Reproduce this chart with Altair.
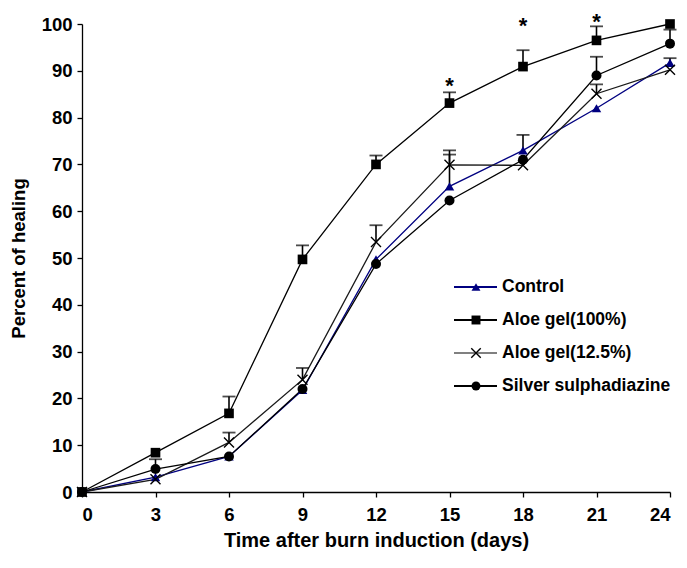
import altair as alt
import pandas as pd

days = [0, 3, 6, 9, 12, 15, 18, 21, 24]
series_names = ["Control", "Aloe gel(100%)", "Aloe gel(12.5%)", "Silver sulphadiazine"]
control = [0, 3.2, 7.6, 21.8, 49.7, 65.3, 73.0, 82.0, 91.7]
control_err = [0, 0, 0, 0, 0, 6.8, 3.3, 0, 1.0]
aloe100 = [0, 8.4, 16.8, 49.7, 70.0, 83.1, 90.9, 96.5, 100.0]
aloe100_err = [0, 0, 3.6, 3.0, 1.9, 2.3, 3.5, 3.0, 0]
aloe125 = [0, 2.7, 10.6, 24.0, 53.4, 69.9, 69.8, 85.1, 90.2]
aloe125_err = [0, 0, 2.1, 2.5, 3.6, 3.1, 0, 2.0, 0]
silver = [0, 4.9, 7.6, 22.0, 48.7, 62.3, 71.0, 89.0, 95.8]
silver_err = [0, 2.1, 0, 0, 0, 0, 0, 4.0, 3.0]
star_days = [15, 18, 21]
star_vals = [88.8, 101.8, 102.5]
x_ticks = [0, 3, 6, 9, 12, 15, 18, 21, 24]
y_ticks = [0, 10, 20, 30, 40, 50, 60, 70, 80, 90, 100]

colors = ["#000080", "#000000", "#1a1a1a", "#000000"]
xpath = "M-1,-1L1,1M-1,1L1,-1"
shapes = ["triangle-up", "square", xpath, "circle"]

rows = []
for name, vals, errs in zip(series_names,
                            [control, aloe100, aloe125, silver],
                            [control_err, aloe100_err, aloe125_err, silver_err]):
    for d, v, e in zip(days, vals, errs):
        rows.append({"day": d, "val": v, "top": v + e, "err": e, "series": name})
df = pd.DataFrame(rows)
err_df = df[df["err"] > 0]

W, H = 588, 468
xs = alt.Scale(domain=[0, 24], nice=False, zero=False)
ys = alt.Scale(domain=[0, 100], nice=False)
X = alt.X("day:Q", scale=xs,
          axis=alt.Axis(values=x_ticks, title="Time after burn induction (days)",
                        titlePadding=7, labelPadding=8, titleFontSize=20))
Y = alt.Y("val:Q", scale=ys,
          axis=alt.Axis(values=y_ticks, title="Percent of healing", titlePadding=13,
                        labelPadding=5, titleFontSize=18.5))
color = alt.Color("series:N", scale=alt.Scale(domain=series_names, range=colors), legend=None)

lines = alt.Chart(df).mark_line(strokeWidth=1.3).encode(
    x=X, y=Y, color=color, detail="series:N",
    order=alt.Order("day:Q"))

err_rule = alt.Chart(err_df).mark_rule(strokeWidth=1.6, color="black").encode(
    x="day:Q", y="val:Q", y2="top:Q")
err_cap = alt.Chart(err_df).mark_tick(orient="horizontal", size=13, thickness=1.8,
                                      color="black").encode(
    x="day:Q", y="top:Q")

pts_filled = alt.Chart(df).transform_filter(
    alt.datum.series != "Aloe gel(12.5%)").mark_point(filled=True, opacity=1).encode(
    x="day:Q", y="val:Q", color=color,
    shape=alt.Shape("series:N", scale=alt.Scale(domain=series_names, range=shapes), legend=None),
    size=alt.Size("series:N", scale=alt.Scale(domain=series_names, range=[90, 100, 100, 70]),
                  legend=None))
pts_x = alt.Chart(df).transform_filter(
    alt.datum.series == "Aloe gel(12.5%)").mark_point(
    shape=xpath, filled=False, size=100, strokeWidth=1.4, color="black", opacity=1).encode(
    x="day:Q", y="val:Q")

stars_df = pd.DataFrame({"day": star_days, "val": star_vals})
stars = alt.Chart(stars_df).mark_text(text="*", fontSize=22, fontWeight="bold",
                                      font="Liberation Sans", color="black",
                                      baseline="top").encode(
    x="day:Q", y="val:Q")

# legend
leg_df = pd.DataFrame({"label": series_names, "col": colors,
                       "lcol": ["#000080", "#000000", "#808080", "#000000"],
                       "shape": shapes, "filled": [True, True, False, True]})
leg_df["py"] = [263 + 33 * i for i in range(len(series_names))]
leg_line = alt.Chart(leg_df).mark_rule(strokeWidth=2).encode(
    x=alt.value(372), x2=alt.value(415),
    y=alt.Y("py:Q", scale=None), color=alt.Color("lcol:N", scale=None))
leg_pts = alt.Chart(leg_df).transform_filter(alt.datum.filled).mark_point(
    filled=True, opacity=1, size=80).encode(
    x=alt.value(394), y=alt.Y("py:Q", scale=None),
    color=alt.Color("col:N", scale=None), shape=alt.Shape("shape:N", scale=None))
leg_x = alt.Chart(leg_df).transform_filter(~alt.datum.filled).mark_point(
    shape=xpath, filled=False, size=90, strokeWidth=1.4, color="black", opacity=1).encode(
    x=alt.value(394), y=alt.Y("py:Q", scale=None))
leg_txt = alt.Chart(leg_df).mark_text(align="left", baseline="middle", font="Liberation Sans",
                                      fontWeight="bold", fontSize=17.5, color="black",
                                      dx=0).encode(
    x=alt.value(420), y=alt.Y("py:Q", scale=None), text="label:N")

chart = alt.layer(lines, err_rule, err_cap, pts_filled, pts_x, stars,
                  leg_line, leg_pts, leg_x, leg_txt).properties(
    width=W, height=H,
    autosize=alt.AutoSizeParams(type="none"),
    padding={"left": 74, "top": 16, "right": 9, "bottom": 60},
).configure_view(stroke=None).configure_axis(
    grid=False, domainColor="black", tickColor="black", tickSize=5,
    labelFont="Liberation Sans", labelFontWeight="bold", labelFontSize=18.5,
    labelColor="black", titleFont="Liberation Sans", titleFontWeight="bold",
    titleColor="black", domainWidth=1.3, tickWidth=1.3
)

chart.save("out.html", embed_options={"renderer": "svg", "actions": False})
